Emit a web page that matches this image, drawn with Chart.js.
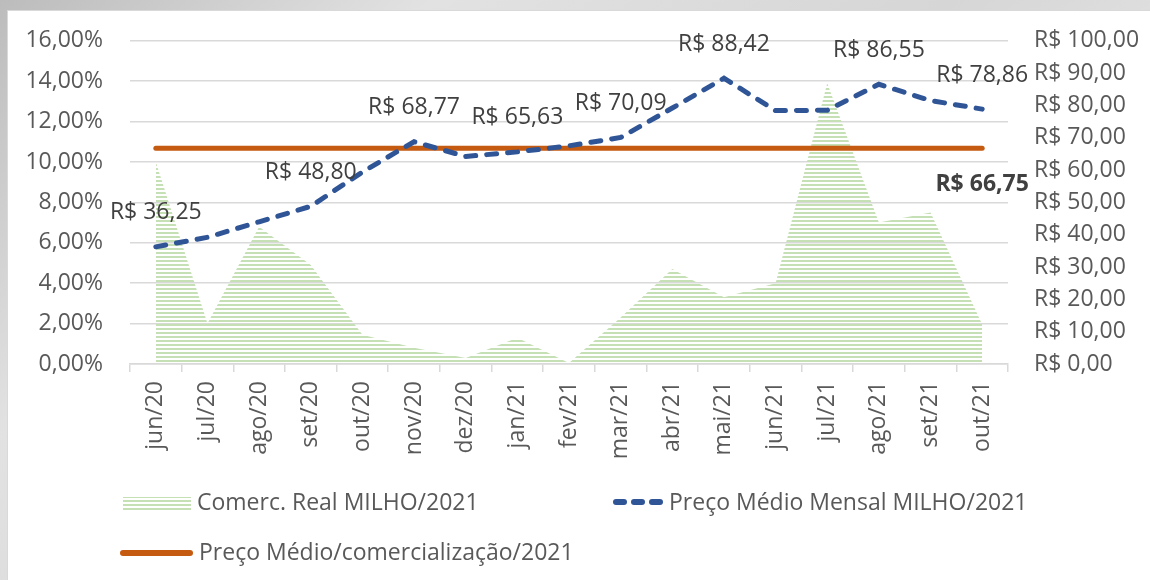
<!DOCTYPE html>
<html lang="pt-BR">
<head>
<meta charset="utf-8">
<title>Comercialização e preço médio - Milho 2021</title>
<script src="https://cdn.jsdelivr.net/npm/chart.js@4.4.1/dist/chart.umd.min.js"></script>
<style>
    html, body { margin: 0; padding: 0; }
    body {
        width: 1150px; height: 580px; overflow: hidden; position: relative;
        background: linear-gradient(135deg, #bcbcbc 0%, #e2e2e2 25%, #d6d6d6 55%, #e6e6e6 80%, #cfcfcf 100%);
    }
    .panel {
        position: absolute; left: 7px; top: 10px; width: 1143px; height: 570px;
        background: #fff; border-left: 1px solid #d9d9d9; border-top: 1px solid #d9d9d9;
    }
    #chart { position: absolute; left: 0; top: 0; }
</style>
</head>
<body>
<div class="panel"></div>
<canvas id="chart" width="1150" height="580"></canvas>
<script>
// Categories (months)
const months = ['jun/20', 'jul/20', 'ago/20', 'set/20', 'out/20', 'nov/20', 'dez/20', 'jan/21',
                'fev/21', 'mar/21', 'abr/21', 'mai/21', 'jun/21', 'jul/21', 'ago/21', 'set/21', 'out/21'];

// Comerc. Real MILHO/2021 (% - left axis)
const comercReal = [10.0, 2.0, 6.8, 4.9, 1.45, 0.8, 0.3, 1.3, 0.05, 2.3, 4.7, 3.3, 4.0, 13.9, 7.0, 7.5, 1.95];

// Preço Médio Mensal MILHO/2021 (R$ - right axis)
const precoMensal = [36.25, 39.2, 44.0, 48.80, 59.4, 68.77, 64.2, 65.63, 67.5, 70.09, 79.2, 88.42, 78.4, 78.5, 86.55, 81.5, 78.86];

// Preço Médio/comercialização/2021 (R$ - right axis)
const precoMedio = [66.75, 66.75, 66.75, 66.75, 66.75, 66.75, 66.75, 66.75, 66.75,
                    66.75, 66.75, 66.75, 66.75, 66.75, 66.75, 66.75, 66.75];

// points of the monthly price that carry a value label
const precoLabelIdx = [0, 3, 5, 7, 9, 11, 14, 16];

// tick labels
const leftTicks = [0, 2, 4, 6, 8, 10, 12, 14, 16];
const rightTicks = [0, 10, 20, 30, 40, 50, 60, 70, 80, 90, 100];

const legendLabels = ['Comerc. Real MILHO/2021', 'Preço Médio Mensal MILHO/2021', 'Preço Médio/comercialização/2021'];

const FONT = "'Open Sans', sans-serif";
const fmt = v => v.toFixed(2).replace('.', ',');
const brl = v => 'R$ ' + fmt(v);

// striped green fill like the original
function stripes() {
    const c = document.createElement('canvas');
    c.width = 4; c.height = 4;
    const g = c.getContext('2d');
    g.fillStyle = '#c5e0b4';
    g.fillRect(0, 0, 4, 2);
    return g.createPattern(c, 'repeat');
}
const stripePattern = stripes();

// value labels + custom legend
const extras = {
    id: 'extras',
    afterDatasetsDraw(chart) {
        const ctx = chart.ctx;
        ctx.save();
        ctx.textAlign = 'center';
        ctx.textBaseline = 'middle';
        ctx.fillStyle = '#404040';
        ctx.font = '23px ' + FONT;
        const blue = chart.getDatasetMeta(1).data;
        precoLabelIdx.forEach(i => {
            ctx.fillText(brl(precoMensal[i]), blue[i].x, blue[i].y - 34);
        });
        const orange = chart.getDatasetMeta(2).data;
        const last = orange[orange.length - 1];
        ctx.font = 'bold 23px ' + FONT;
        ctx.fillText(brl(precoMedio[precoMedio.length - 1]), last.x, last.y + 36);
        ctx.restore();
    },
    afterDraw(chart) {
        const ctx = chart.ctx;
        ctx.save();
        ctx.textBaseline = 'middle';
        ctx.textAlign = 'left';
        ctx.font = '23px ' + FONT;
        ctx.fillStyle = '#595959';

        // row 1
        ctx.fillStyle = stripePattern;
        ctx.fillRect(123, 497, 68, 14);
        ctx.fillStyle = '#595959';
        ctx.fillText(legendLabels[0], 197, 503);

        ctx.strokeStyle = '#2f5597';
        ctx.lineWidth = 6;
        ctx.lineCap = 'round';
        [[616, 624], [634, 642], [652, 660]].forEach(([a, b]) => {
            ctx.beginPath(); ctx.moveTo(a, 502); ctx.lineTo(b, 502); ctx.stroke();
        });
        ctx.fillText(legendLabels[1], 669, 503);

        // row 2
        ctx.strokeStyle = '#c55a11';
        ctx.beginPath(); ctx.moveTo(123, 553); ctx.lineTo(190, 553); ctx.stroke();
        ctx.fillText(legendLabels[2], 199, 553);
        ctx.restore();
    }
};

Chart.defaults.font.family = FONT;
Chart.defaults.font.size = 23;
Chart.defaults.color = '#595959';

new Chart(document.getElementById('chart'), {
    type: 'line',
    data: {
        labels: months,
        datasets: [
            {
                label: legendLabels[0],
                data: comercReal,
                yAxisID: 'yL',
                fill: 'origin',
                backgroundColor: stripePattern,
                borderWidth: 0,
                pointRadius: 0,
                order: 3
            },
            {
                label: legendLabels[1],
                data: precoMensal,
                yAxisID: 'yR',
                borderColor: '#2f5597',
                borderWidth: 5,
                borderDash: [10, 11],
                borderCapStyle: 'round',
                pointRadius: 0,
                fill: false,
                order: 1
            },
            {
                label: legendLabels[2],
                data: precoMedio,
                yAxisID: 'yR',
                borderColor: '#c55a11',
                borderWidth: 5,
                borderCapStyle: 'round',
                pointRadius: 0,
                fill: false,
                order: 2
            }
        ]
    },
    options: {
        responsive: false,
        animation: false,
        layout: { padding: { top: 40, bottom: 116, left: 0, right: 0 } },
        plugins: {
            legend: { display: false },
            tooltip: { enabled: false }
        },
        scales: {
            x: {
                offset: true,
                grid: { offset: true, drawOnChartArea: false, drawTicks: true, tickLength: 8, color: '#d9d9d9', lineWidth: 1.5 },
                border: { display: true, color: '#d9d9d9', width: 1.5 },
                ticks: { minRotation: 90, maxRotation: 90, padding: 9, autoSkip: false },
                afterFit: s => { s.height = 100; }
            },
            yL: {
                position: 'left',
                min: leftTicks[0],
                max: leftTicks[leftTicks.length - 1],
                afterBuildTicks: s => { s.ticks = leftTicks.map(v => ({ value: v })); },
                ticks: { padding: 27, callback: v => fmt(v) + '%' },
                grid: { color: '#d9d9d9', lineWidth: 1.5, drawTicks: false },
                border: { display: false },
                afterFit: s => { s.width = 130; }
            },
            yR: {
                position: 'right',
                min: rightTicks[0],
                max: rightTicks[rightTicks.length - 1],
                afterBuildTicks: s => { s.ticks = rightTicks.map(v => ({ value: v })); },
                ticks: { padding: 26, callback: v => brl(v) },
                grid: { drawOnChartArea: false, drawTicks: false },
                border: { display: false },
                afterFit: s => { s.width = 142; }
            }
        }
    },
    plugins: [extras]
});
</script>
</body>
</html>
